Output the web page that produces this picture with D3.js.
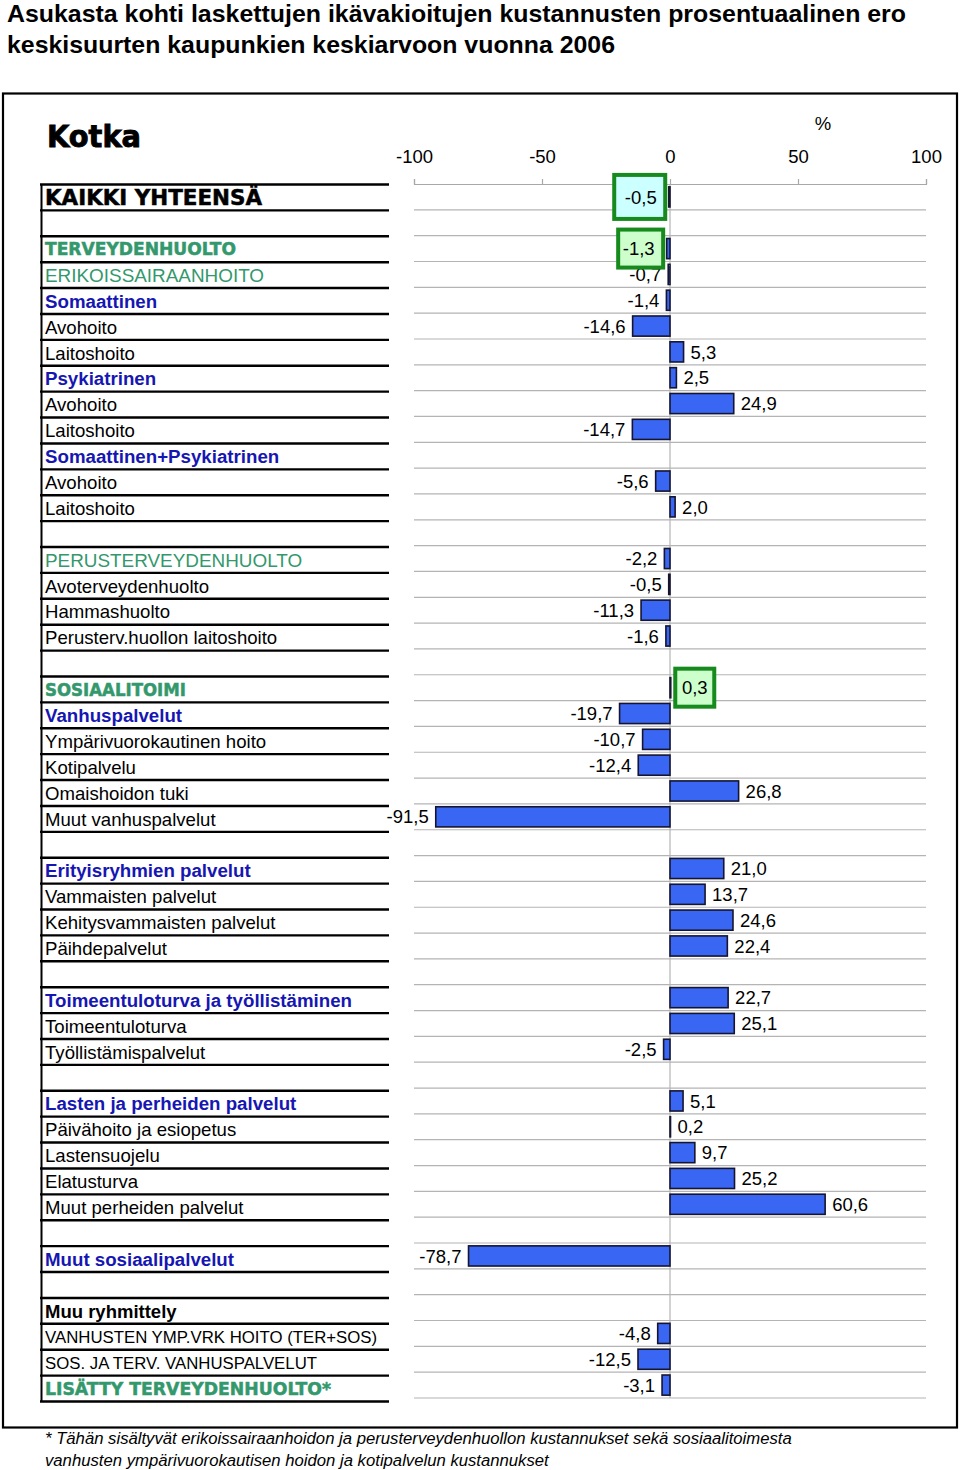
<!DOCTYPE html>
<html><head><meta charset="utf-8">
<script src="https://cdn.jsdelivr.net/npm/d3@7"></script>
<style>
html,body{margin:0;padding:0;background:#fff;}
svg{display:block;}
</style></head>
<body>
<script>
// ---------- DATA ----------
const titleLines = [
  "Asukasta kohti laskettujen ikävakioitujen kustannusten prosentuaalinen ero",
  "keskisuurten kaupunkien keskiarvoon vuonna 2006"
];
const cityName = "Kotka";
const unitLabel = "%";
const tickValues = [-100, -50, 0, 50, 100];
const rowLabels = [
  "KAIKKI YHTEENSÄ", "",
  "TERVEYDENHUOLTO", "ERIKOISSAIRAANHOITO", "Somaattinen", "Avohoito", "Laitoshoito",
  "Psykiatrinen", "Avohoito", "Laitoshoito", "Somaattinen+Psykiatrinen", "Avohoito", "Laitoshoito", "",
  "PERUSTERVEYDENHUOLTO", "Avoterveydenhuolto", "Hammashuolto", "Perusterv.huollon laitoshoito", "",
  "SOSIAALITOIMI", "Vanhuspalvelut", "Ympärivuorokautinen hoito", "Kotipalvelu", "Omaishoidon tuki", "Muut vanhuspalvelut", "",
  "Erityisryhmien palvelut", "Vammaisten palvelut", "Kehitysvammaisten palvelut", "Päihdepalvelut", "",
  "Toimeentuloturva ja työllistäminen", "Toimeentuloturva", "Työllistämispalvelut", "",
  "Lasten ja perheiden palvelut", "Päivähoito ja esiopetus", "Lastensuojelu", "Elatusturva", "Muut perheiden palvelut", "",
  "Muut sosiaalipalvelut", "",
  "Muu ryhmittely", "VANHUSTEN YMP.VRK HOITO (TER+SOS)", "SOS. JA TERV. VANHUSPALVELUT", "LISÄTTY TERVEYDENHUOLTO*"
];
const rowValues = [
  -0.5, null,
  -1.3, -0.7, -1.4, -14.6, 5.3,
  2.5, 24.9, -14.7, null, -5.6, 2.0, null,
  -2.2, -0.5, -11.3, -1.6, null,
  0.3, -19.7, -10.7, -12.4, 26.8, -91.5, null,
  21.0, 13.7, 24.6, 22.4, null,
  22.7, 25.1, -2.5, null,
  5.1, 0.2, 9.7, 25.2, 60.6, null,
  -78.7, null,
  null, -4.8, -12.5, -3.1
];
// hierarchy level of each row
const rowLevels = [
  "total", "blank",
  "sector", "subsector", "group", "item", "item",
  "group", "item", "item", "group", "item", "item", "blank",
  "subsector", "item", "item", "item", "blank",
  "sector", "group", "item", "item", "item", "item", "blank",
  "group", "item", "item", "item", "blank",
  "group", "item", "item", "blank",
  "group", "item", "item", "item", "item", "blank",
  "group", "blank",
  "heading", "other", "other", "sector"
];
// rows whose value is highlighted with a box
const highlightRows = [0, 2, 19];
const highlightKinds = ["total", "sector", "sector"];
const footnoteLines = [
  "* Tähän sisältyvät erikoissairaanhoidon ja perusterveydenhuollon kustannukset sekä sosiaalitoimesta",
  "vanhusten ympärivuorokautisen hoidon ja kotipalvelun kustannukset"
];

// ---------- STYLES ----------
const GREEN = "#33986c", BLUE = "#1616b2";
const levelStyle = {
  total:     {fill:"#000", family:"DejaVu Sans", weight:"bold", size:21, heavy:true},
  sector:    {fill:GREEN, family:"DejaVu Sans", weight:"bold", size:17, heavy:true},
  subsector: {fill:GREEN, family:"Liberation Sans", weight:"normal", size:18.9},
  group:     {fill:BLUE, family:"Liberation Sans", weight:"bold", size:18.7},
  item:      {fill:"#000", family:"Liberation Sans", weight:"normal", size:18.6},
  heading:   {fill:"#000", family:"Liberation Sans", weight:"bold", size:18.5},
  other:     {fill:"#000", family:"Liberation Sans", weight:"normal", size:16.8},
  blank:     {fill:"#000", family:"Liberation Sans", weight:"normal", size:18}
};
// target widths for the heavy (Arial Black-like) labels
const heavyWidths = {"KAIKKI YHTEENSÄ":217, "TERVEYDENHUOLTO":191, "SOSIAALITOIMI":141, "LISÄTTY TERVEYDENHUOLTO*":286};

const W = 960, H = 1470;
const svg = d3.select("body").append("svg").attr("width", W).attr("height", H)
  .style("font-family", "'Liberation Sans', Arial, sans-serif");

// Title
const titleWidths = [899, 608];
svg.append("g").selectAll("text").data(titleLines).join("text")
  .attr("x", 7).attr("y", (d, i) => 22 + i * 31)
  .attr("font-size", 24).attr("font-weight", "bold").attr("fill", "#000")
  .attr("textLength", (d, i) => titleWidths[i]).attr("lengthAdjust", "spacingAndGlyphs")
  .text(d => d);

// Frame
svg.append("rect").attr("x", 3).attr("y", 93.5).attr("width", 954).attr("height", 1334)
  .attr("fill", "none").attr("stroke", "#000").attr("stroke-width", 2.2);

// City name
svg.append("text").attr("x", 47).attr("y", 147)
  .attr("font-family", "DejaVu Sans").attr("font-weight", "bold").attr("font-size", 29.5)
  .attr("fill", "#000").attr("stroke", "#000").attr("stroke-width", 0.9)
  .attr("textLength", 94).attr("lengthAdjust", "spacingAndGlyphs")
  .text(cityName);

// Scales
const n = rowLabels.length;
const x = d3.scaleLinear().domain([-100, 100]).range([414, 926]);
const yPlot = d3.scaleBand().domain(d3.range(n)).range([184, 1398]).padding(0);
const yTable = d3.scaleBand().domain(d3.range(n)).range([184.5, 1401.5]).padding(0);
const barH = yPlot.bandwidth() * 0.78;

// Gridlines
svg.append("g").selectAll("line").data(d3.range(1, n + 1)).join("line")
  .attr("x1", x(-100)).attr("x2", x(100))
  .attr("y1", i => yPlot.step() * i + 184).attr("y2", i => yPlot.step() * i + 184)
  .attr("stroke", "#b4b4b4").attr("stroke-width", 1.2);

// Zero line
svg.append("line").attr("x1", x(0)).attr("x2", x(0)).attr("y1", 184).attr("y2", 1398)
  .attr("stroke", "#b4b4b4").attr("stroke-width", 1.2);

// Axis
const axis = d3.axisTop(x).tickValues(tickValues).tickSize(5).tickSizeOuter(5)
  .tickPadding(16).tickFormat(d => String(d));
const ag = svg.append("g").attr("transform", "translate(0,184)").call(axis);
ag.select(".domain").attr("stroke", "#a8a8a8").attr("stroke-width", 1.2);
ag.selectAll(".tick line").attr("stroke", "#a8a8a8").attr("stroke-width", 1.2);
ag.selectAll(".tick text").attr("font-size", 18.5).attr("fill", "#000")
  .attr("font-family", "'Liberation Sans', Arial, sans-serif").attr("dy", 0);
svg.append("text").attr("x", 823).attr("y", 130).attr("text-anchor", "middle")
  .attr("font-size", 18.5).attr("fill", "#000").text(unitLabel);

// Table lines
svg.append("g").selectAll("line").data(d3.range(0, n + 1)).join("line")
  .attr("x1", 40).attr("x2", 389)
  .attr("y1", i => 184.5 + yTable.step() * i).attr("y2", i => 184.5 + yTable.step() * i)
  .attr("stroke", "#000").attr("stroke-width", 2.4);
svg.append("line").attr("x1", 41.5).attr("x2", 41.5).attr("y1", 184.5).attr("y2", 1401.5)
  .attr("stroke", "#000").attr("stroke-width", 2);

// Row labels
const rows = rowLabels.map((label, i) => ({label, i, level: rowLevels[i], value: rowValues[i]}));
svg.append("g").selectAll("text").data(rows.filter(r => r.label)).join("text")
  .attr("x", 45)
  .attr("y", r => yTable(r.i) + yTable.bandwidth() / 2)
  .attr("dy", "0.36em")
  .attr("font-family", r => levelStyle[r.level].family)
  .attr("font-weight", r => levelStyle[r.level].weight)
  .attr("font-size", r => levelStyle[r.level].size)
  .attr("fill", r => levelStyle[r.level].fill)
  .each(function(r) {
    const s = levelStyle[r.level];
    if (s.heavy) {
      d3.select(this).attr("stroke", s.fill).attr("stroke-width", 0.5);
      if (heavyWidths[r.label]) d3.select(this).attr("textLength", heavyWidths[r.label]).attr("lengthAdjust", "spacingAndGlyphs");
    }
  })
  .text(r => r.label);

// Bars
const valued = rows.filter(r => r.value !== null);
svg.append("g").selectAll("rect").data(valued).join("rect")
  .attr("x", r => Math.min(x(0), x(r.value)))
  .attr("width", r => Math.abs(x(r.value) - x(0)))
  .attr("y", r => yPlot(r.i) + (yPlot.bandwidth() - barH) / 2)
  .attr("height", barH)
  .attr("fill", r => r.level === "total" ? "#111" : "#3a66f4")
  .attr("stroke", "#151530").attr("stroke-width", 1.6);

const fmt = v => d3.format(".1f")(v).replace("−", "-").replace(".", ",");

// Value labels
const isHL = r => highlightRows.includes(r.i);
svg.append("g").selectAll("text").data(valued.filter(r => !isHL(r))).join("text")
  .attr("x", r => r.value < 0 ? x(r.value) - 7 : x(r.value) + 7)
  .attr("y", r => yPlot(r.i) + yPlot.bandwidth() / 2)
  .attr("dy", "0.36em")
  .attr("text-anchor", r => r.value < 0 ? "end" : "start")
  .attr("font-size", 18.5).attr("fill", "#000")
  .text(r => fmt(r.value));

// Highlight boxes
const hl = highlightRows.map((ri, k) => ({r: rows[ri], kind: highlightKinds[k]}));
const hg = svg.append("g").selectAll("g").data(hl).join("g");
const boxW = d => d.kind === "total" ? 51 : (d.r.value < 0 ? 45 : 39);
const boxH = d => d.kind === "total" ? 44 : 38;
hg.append("rect")
  .attr("x", d => d.r.value < 0 ? x(d.r.value) - 3.5 - boxW(d) : x(d.r.value) + 4.5)
  .attr("y", d => yPlot(d.r.i) + yPlot.bandwidth() / 2 - boxH(d) / 2)
  .attr("width", boxW)
  .attr("height", boxH)
  .attr("fill", d => d.kind === "total" ? "#ccffff" : "#ccffcc")
  .attr("stroke", "#168a1c").attr("stroke-width", 4);
hg.append("text")
  .attr("x", d => d.r.value < 0 ? x(d.r.value) - 12 : x(d.r.value) + 24)
  .attr("y", d => yPlot(d.r.i) + yPlot.bandwidth() / 2)
  .attr("dy", "0.36em")
  .attr("text-anchor", d => d.r.value < 0 ? "end" : "middle")
  .attr("font-size", 18.5).attr("fill", "#000")
  .text(d => fmt(d.r.value));

// Footnote
svg.append("g").selectAll("text").data(footnoteLines).join("text")
  .attr("x", 45).attr("y", (d, i) => 1444 + i * 21.5)
  .attr("font-size", 16.7).attr("font-style", "italic").attr("fill", "#000")
  .text(d => d);
</script>
</body></html>
